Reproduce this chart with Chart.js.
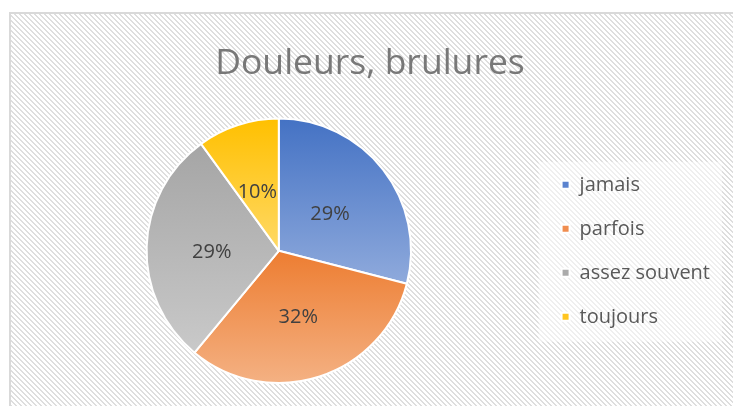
<!DOCTYPE html>
<html>
<head>
<meta charset="utf-8">
<script src="https://cdn.jsdelivr.net/npm/chart.js@4/dist/chart.umd.min.js"></script>
<style>
  html, body { margin: 0; padding: 0; background: #fff; }
  #wrap { position: relative; width: 733px; height: 406px; }
</style>
</head>
<body>
<div id="wrap"><canvas id="pie" width="733" height="406"></canvas></div>
<script>
'use strict';

//==== data ====//
var categories = ['jamais', 'parfois', 'assez souvent', 'toujours'];
var percents = [29, 32, 29, 10];
var chartTitle = 'Douleurs, brulures';

// slice colours, top of the gradient / bottom of the gradient
var topColors = ['#4472c4', '#ed7d31', '#a5a5a5', '#ffc000'];
var bottomColors = ['#8faadc', '#f4b183', '#c9c9c9', '#ffd966'];
var legendColors = ['#5b83cf', '#f08d4f', '#ababab', '#ffc520'];

var FONT = "'Open Sans', 'Noto Sans', sans-serif";

// hatched background + border of the chart box, plus the lighter legend box
var backgroundPlugin = {
  id: 'hatchBackground',
  beforeDraw: function(chart) {
    var ctx = chart.ctx;
    var tile = document.createElement('canvas');
    tile.width = 5; tile.height = 5;
    var t = tile.getContext('2d');
    t.fillStyle = '#ffffff';
    t.fillRect(0, 0, 5, 5);
    t.fillStyle = '#dedede';
    for (var y = 0; y < 5; y++) {
      for (var x = 0; x < 5; x++) {
        var k = ((x - y) % 5 + 5) % 5;
        if (k === 0 || k === 1) t.fillRect(x, y, 1, 1);
      }
    }
    ctx.save();
    ctx.fillStyle = '#ffffff';
    ctx.fillRect(0, 0, chart.width, chart.height);
    ctx.fillStyle = ctx.createPattern(tile, 'repeat');
    ctx.fillRect(10, 13, chart.width - 10, chart.height - 13);
    ctx.strokeStyle = '#d9d9d9';
    ctx.lineWidth = 2;
    ctx.beginPath();
    ctx.moveTo(10, chart.height);
    ctx.lineTo(10, 13);
    ctx.lineTo(chart.width, 13);
    ctx.stroke();

    // legend box
    var lg = chart.legend;
    if (lg && lg.columnSizes && lg.columnSizes.length) {
      var pad = lg.options.labels.padding;
      var colH = lg.columnSizes[0].height;
      var y0 = (lg.top + pad + lg.bottom - colH) / 2;
      ctx.fillStyle = 'rgba(255,255,255,0.5)';
      ctx.fillRect(lg.left + 1, y0 - 13, lg.right - lg.left + 1, colH - pad + 28);
    }
    ctx.restore();
  }
};

// vertical gradient over each slice's own height
var gradientPlugin = {
  id: 'sliceGradient',
  beforeDatasetsDraw: function(chart) {
    var ctx = chart.ctx;
    var meta = chart.getDatasetMeta(0);
    meta.data.forEach(function(arc, i) {
      var p = arc.getProps(['x', 'y', 'startAngle', 'endAngle', 'outerRadius'], true);
      var ys = [p.y, p.y + Math.sin(p.startAngle) * p.outerRadius, p.y + Math.sin(p.endAngle) * p.outerRadius];
      // top and bottom of the circle if inside the slice
      [-Math.PI / 2, Math.PI / 2, 3 * Math.PI / 2].forEach(function(a) {
        if (a > p.startAngle && a < p.endAngle) ys.push(p.y + Math.sin(a) * p.outerRadius);
      });
      var g = ctx.createLinearGradient(0, Math.min.apply(null, ys), 0, Math.max.apply(null, ys));
      g.addColorStop(0, topColors[i]);
      g.addColorStop(1, bottomColors[i]);
      arc.options.backgroundColor = g;
    });
  }
};

// percentage labels inside the slices
var labelPlugin = {
  id: 'sliceLabels',
  afterDatasetsDraw: function(chart) {
    var ctx = chart.ctx;
    var meta = chart.getDatasetMeta(0);
    ctx.save();
    ctx.font = '20px ' + FONT;
    ctx.fillStyle = '#404040';
    ctx.textAlign = 'center';
    ctx.textBaseline = 'middle';
    meta.data.forEach(function(arc, i) {
      var p = arc.getProps(['x', 'y', 'startAngle', 'endAngle', 'outerRadius'], true);
      var mid = (p.startAngle + p.endAngle) / 2;
      var r = p.outerRadius * 0.5;
      ctx.fillText(percents[i] + '%', p.x + Math.cos(mid) * r - 1, p.y + Math.sin(mid) * r + 4);
    });
    ctx.restore();
  }
};

var chart = new Chart(document.getElementById('pie'), {
  type: 'pie',
  data: {
    labels: categories,
    datasets: [{
      data: percents,
      backgroundColor: legendColors,
      borderColor: '#ffffff',
      borderWidth: 2
    }]
  },
  plugins: [backgroundPlugin, gradientPlugin, labelPlugin],
  options: {
    responsive: false,
    animation: false,
    layout: { padding: { left: 20, right: 13, top: 13, bottom: 22 } },
    plugins: {
      title: {
        display: true,
        text: chartTitle,
        color: '#787878',
        font: { family: FONT, size: 35.5, weight: 'normal' },
        padding: { top: 30, bottom: 32 }
      },
      legend: {
        position: 'right',
        fullSize: false,
        labels: {
          boxWidth: 8,
          boxHeight: 8,
          padding: 24,
          color: '#595959',
          font: { family: FONT, size: 20 }
        }
      },
      tooltip: { enabled: false }
    }
  }
});
</script>
</body>
</html>
